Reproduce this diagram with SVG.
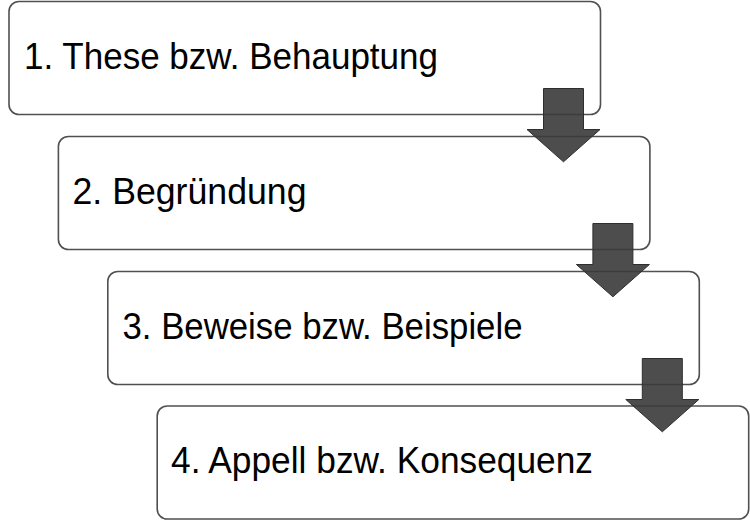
<svg xmlns="http://www.w3.org/2000/svg" width="750" height="521" viewBox="0 0 750 521">
<style>
.box{fill:#ffffff;stroke:#505050;stroke-width:1.6}
.lbl{font-family:"Liberation Sans",Arial,sans-serif;font-size:36px;fill:#000000}
.arr{fill:#3a3a3a;fill-opacity:0.9;stroke:#2e2e2e;stroke-width:1}
</style>
<defs>
<polygon id="arrowShape" points="543.5,88.5 583.5,88.5 583.5,129.5 600,129.5 563.5,161.8 527,129.5 543.5,129.5"/>
</defs>
<rect width="750" height="521" fill="#ffffff"/>
<g id="node1">
<rect class="box" x="9" y="1.5" width="591.5" height="113" rx="10" ry="10"/>
<text class="lbl" x="24" y="69" textLength="414" lengthAdjust="spacingAndGlyphs">1. These bzw. Behauptung</text>
</g>
<g id="node2">
<rect class="box" x="58.4" y="136.5" width="591.5" height="113" rx="10" ry="10"/>
<text class="lbl" x="72.5" y="204" textLength="234" lengthAdjust="spacingAndGlyphs">2. Begründung</text>
</g>
<g id="node3">
<rect class="box" x="107.8" y="271.5" width="591.5" height="113" rx="10" ry="10"/>
<text class="lbl" x="122.5" y="339" textLength="400" lengthAdjust="spacingAndGlyphs">3. Beweise bzw. Beispiele</text>
</g>
<g id="node4">
<rect class="box" x="157.2" y="406" width="591.5" height="113" rx="10" ry="10"/>
<text class="lbl" x="171" y="473" textLength="422" lengthAdjust="spacingAndGlyphs">4. Appell bzw. Konsequenz</text>
</g>
<g id="connectors">
<use href="#arrowShape" class="arr"/>
<use href="#arrowShape" class="arr" transform="translate(49.4,135)"/>
<use href="#arrowShape" class="arr" transform="translate(98.8,270)"/>
</g>
</svg>
